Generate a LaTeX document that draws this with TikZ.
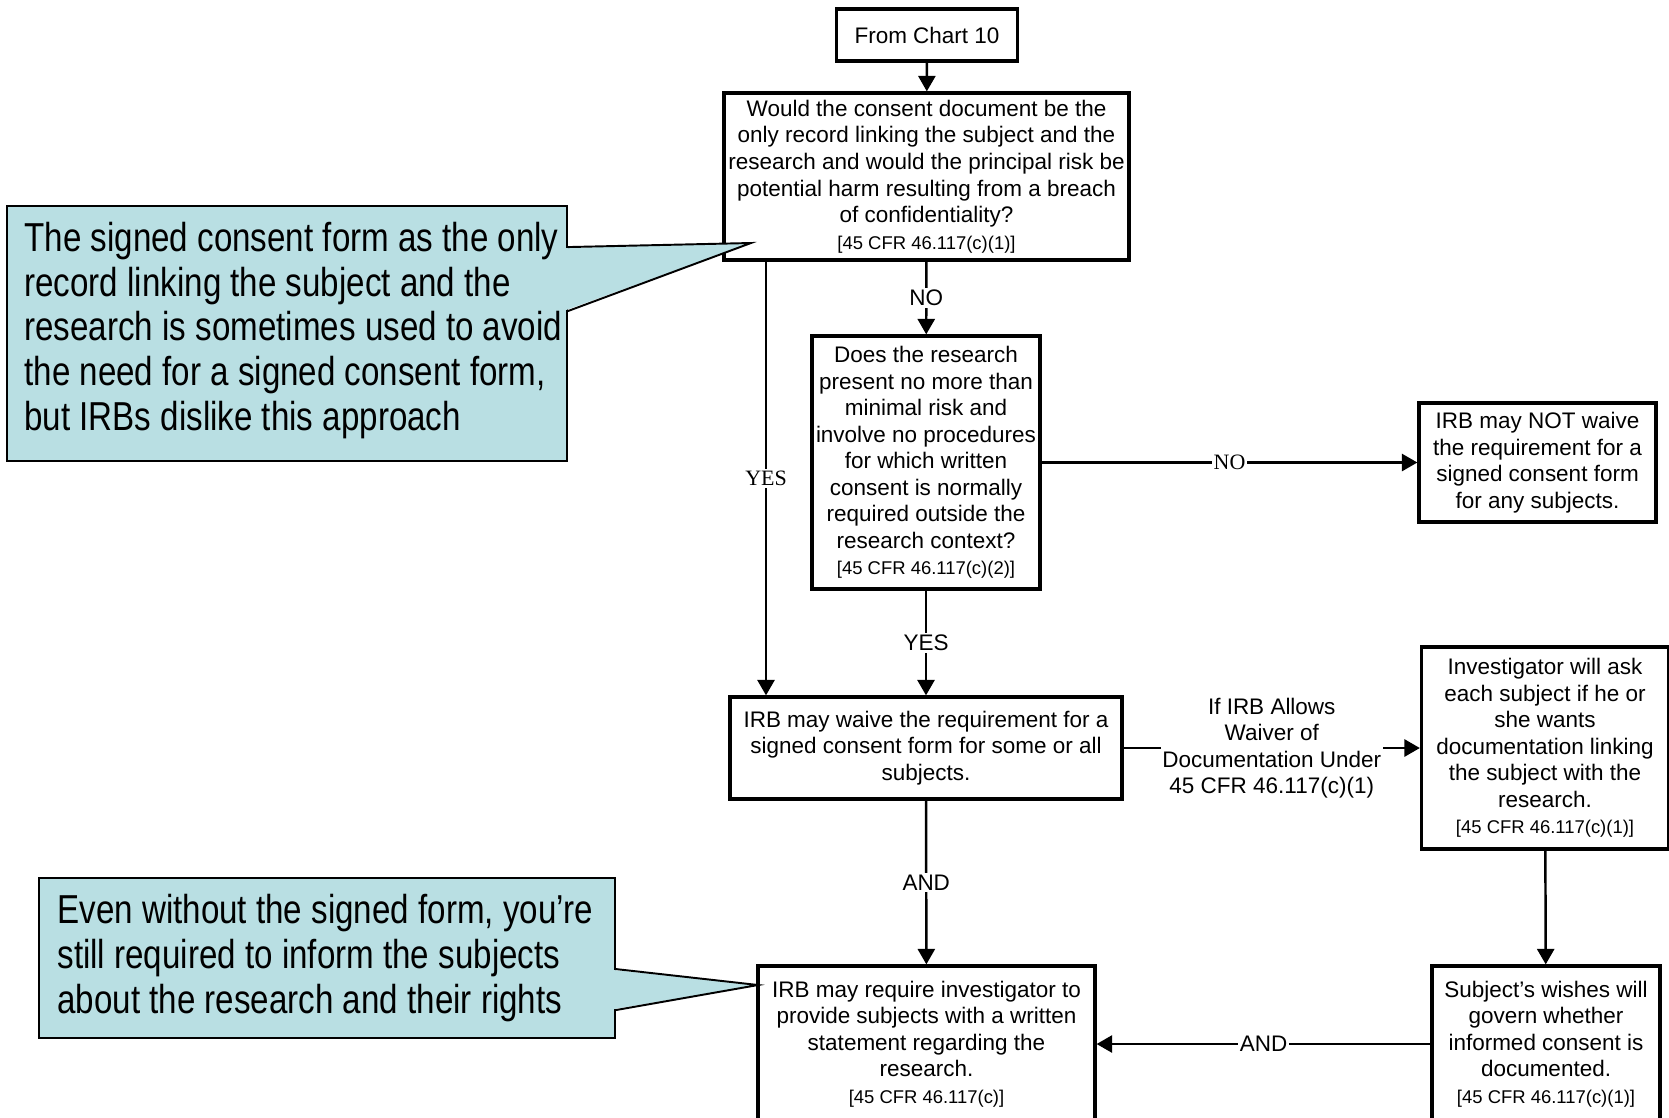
\documentclass[tikz,border=0pt]{standalone}
\usepackage{fontspec}
\setmainfont{Liberation Sans}
\newfontfamily\callfont[FakeStretch=0.82]{Liberation Sans}
\newfontfamily\serlab{Liberation Serif}
\usepackage{tikz}
\usetikzlibrary{arrows}
\usetikzlibrary{calc}
\definecolor{callblue}{RGB}{185,223,227}
\tikzstyle{b} = [rectangle, draw, line width=2pt, fill=white, align=center, inner sep=1pt, font=\fontsize{12.8}{15.1}\selectfont]
\tikzstyle{c} = [rectangle, draw, line width=1.1pt, fill=callblue]
\tikzstyle{ct} = [anchor=west, align=left, inner sep=0pt, font=\callfont\fontsize{23}{25.4}\selectfont]
\tikzstyle{l} = [fill=white, inner sep=1pt, align=center, font=\fontsize{12.8}{15.1}\selectfont]
\tikzstyle{ls} = [fill=white, inner sep=1pt, font=\serlab\fontsize{12.5}{15}\selectfont]
\tikzstyle{e} = [-triangle 60, line width=1.4pt]
\newcommand{\cfr}[1]{\\{\fontsize{10.5}{12}\selectfont [45 CFR 46.117#1]}}

\begin{document}
\begin{tikzpicture}[x=0.02cm,y=-0.02cm]
		\clip (0,0) rectangle (1669,1117);
		\node[b, minimum width=3.62cm, minimum height=1.05cm] (b1) at (927,35) {From Chart 10};
		\node[b, minimum width=8.1cm, minimum height=3.34cm] (b2) at (926.5,176.5) {Would the consent document be the\\only record linking the subject and the\\research and would the principal risk be\\potential harm resulting from a breach\\of confidentiality?\cfr{(c)(1)}};
		\node[b, minimum width=4.56cm, minimum height=5.06cm] (b3) at (926,462.5) {Does the research\\present no more than\\minimal risk and\\involve no procedures\\for which written\\consent is normally\\required outside the\\research context?\cfr{(c)(2)}};
		\node[b, minimum width=4.74cm, minimum height=2.38cm] (b4) at (1537.5,462.5) {IRB may NOT waive\\the requirement for a\\signed consent form\\for any subjects.};
		\node[b, minimum width=7.84cm, minimum height=2.04cm] (b5) at (926,748) {IRB may waive the requirement for a\\signed consent form for some or all\\subjects.};
		\node[b, minimum width=4.94cm, minimum height=4.04cm] (b6) at (1545,748) {Investigator will ask\\each subject if he or\\she wants\\documentation linking\\the subject with the\\research.\cfr{(c)(1)}};
		\node[b, minimum width=6.74cm, minimum height=3.12cm] (b7) at (926.5,1044) {IRB may require investigator to\\provide subjects with a written\\statement regarding the\\research.\cfr{(c)}};
		\node[b, minimum width=4.56cm, minimum height=3.12cm] (b8) at (1546,1044) {Subject's wishes will\\govern whether\\informed consent is\\documented.\cfr{(c)(1)}};
		\coordinate (y1) at (766,0);
		\draw[e] (b1) -- (b2);
		\foreach \from/\to/\lab in {b2/b3/NO,b3/b5/YES,b5/b7/AND,b8/b7/AND}
		\draw[e] (\from) -- node[l] {\lab} (\to);
		\draw[e] (b6) -- (b8);
		\draw[e] (b3) -- node[ls] {NO} (b4);
		\draw[e] (b2.south -| y1) -- node[ls] {YES} (b5.north -| y1);
		\draw[e] (b5) -- node[l] {If IRB Allows\\Waiver of\\Documentation Under\\45 CFR 46.117(c)(1)} (b6);
	%	callouts
		\node[c, minimum width=11.2cm, minimum height=5.1cm] (c1) at (287,333.5) {};
		\node[c, minimum width=11.52cm, minimum height=3.2cm] (c2) at (327,958) {};
		\coordinate (p1) at (751,243);
		\coordinate (p2) at (758,985);
		\fill[callblue] ($(c1.north east)+(-2,43)$) -- (p1) -- ($(c1.north east)+(-2,105)$) -- cycle;
		\draw[line width=1.1pt] ($(c1.north east)+(0,42)$) -- (p1) -- ($(c1.north east)+(0,106)$);
		\fill[callblue] ($(c2.north east)+(-2,93)$) -- (p2) -- ($(c2.north east)+(-2,132)$) -- cycle;
		\draw[line width=1.1pt] ($(c2.north east)+(0,92)$) -- (p2) -- ($(c2.north east)+(0,133)$);
		\node[ct] (t1) at ($(c1.west)+(18,-3)$) {The signed consent form as the only\\record linking the subject and the\\research is sometimes used to avoid\\the need for a signed consent form,\\but IRBs dislike this approach};
		\node[ct] (t2) at ($(c2.west)+(19,0)$) {Even without the signed form, you’re\\still required to inform the subjects\\about the research and their rights};
	\end{tikzpicture}
\end{document}
